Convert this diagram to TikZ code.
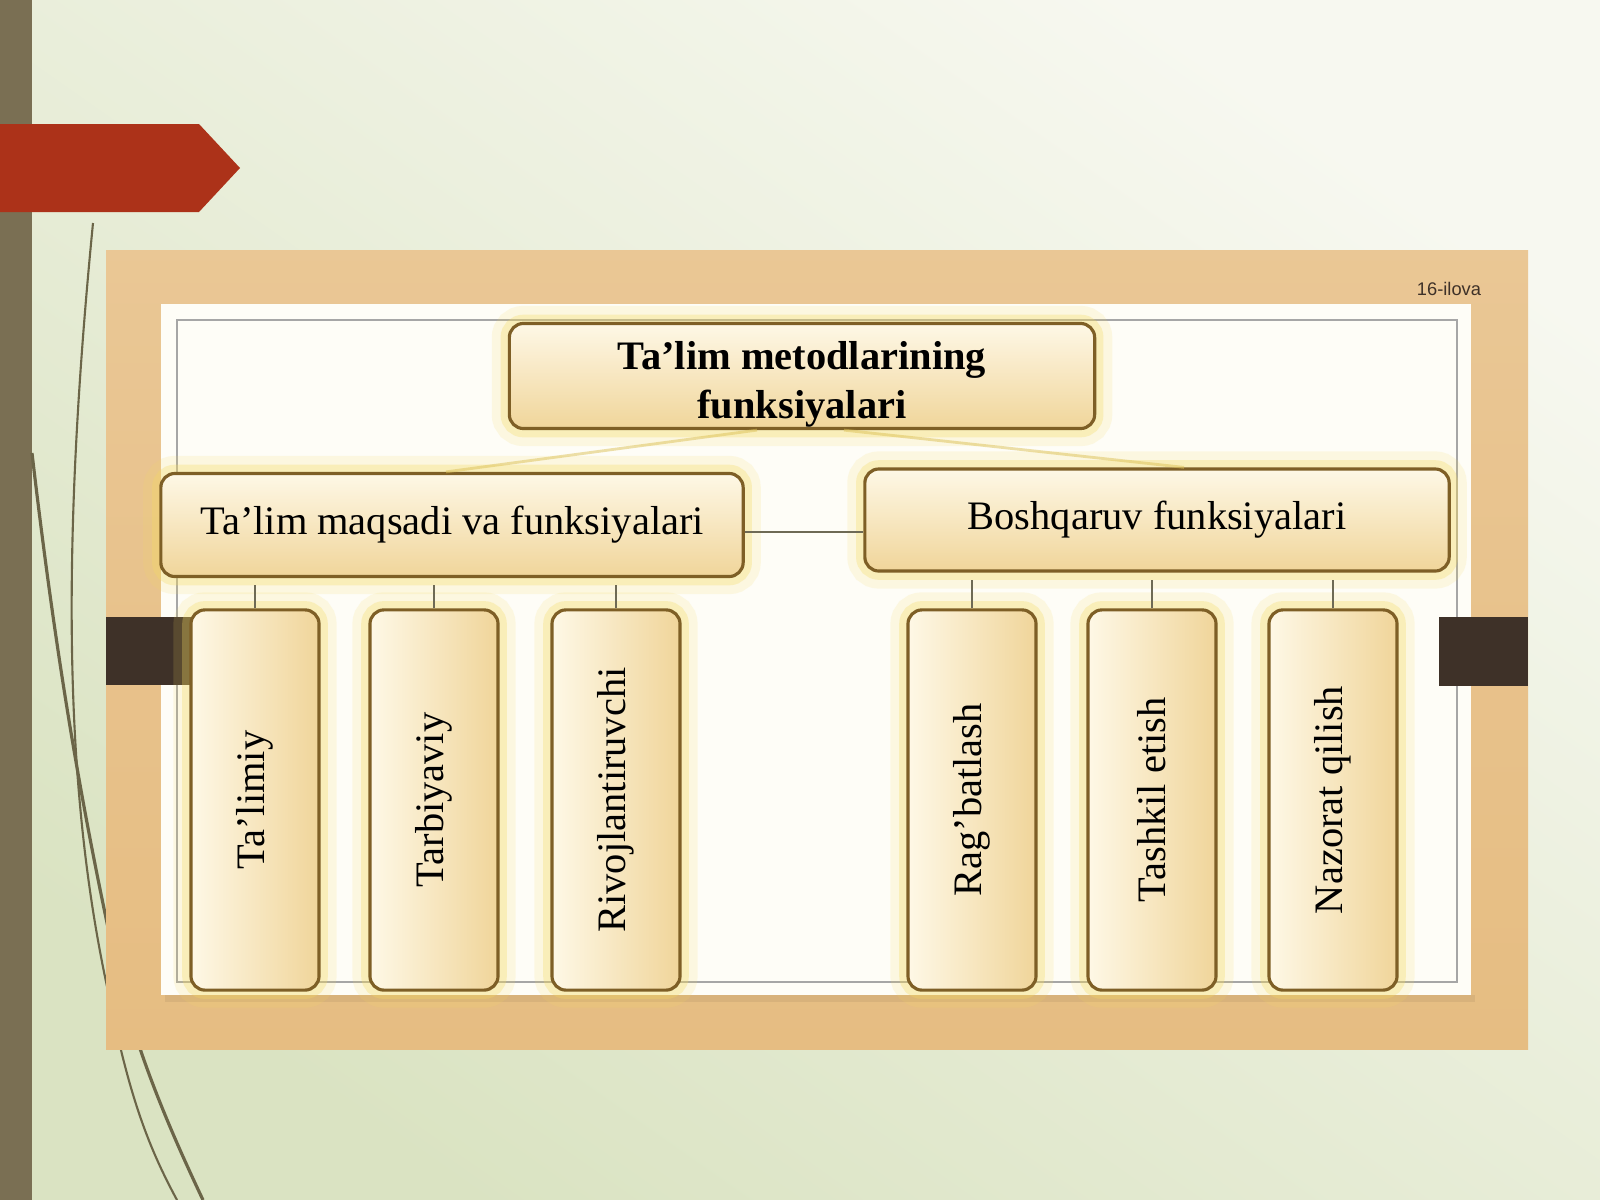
\documentclass[tikz,border=0pt]{standalone}
\usepackage{fontspec}
\setmainfont{Liberation Serif}
\newfontfamily\labelfont{Liberation Sans}

\definecolor{slidetop}{HTML}{F7F8F0}
\definecolor{slidebot}{HTML}{DAE3C2}
\definecolor{olive}{HTML}{7A6F53}
\definecolor{curvec}{HTML}{6B6548}
\definecolor{arrowred}{HTML}{AC3219}
\definecolor{framec}{HTML}{E6BD82}
\definecolor{panelc}{HTML}{FEFDF7}
\definecolor{tabc}{HTML}{3E3128}
\definecolor{boxtop}{HTML}{FEF8E6}
\definecolor{boxbot}{HTML}{F0D59A}
\definecolor{boxedge}{HTML}{7E5F26}
\definecolor{glowc}{HTML}{F4DA62}
\definecolor{linkc}{HTML}{6E6A55}

\begin{document}
\begin{tikzpicture}[x=0.01cm, y=-0.01cm,
	box/.style={draw=boxedge, line width=0.9pt, rounded corners=4pt,
		top color=boxtop, bottom color=boxbot, inner sep=0pt, align=center,
		font=\fontsize{11.5}{14}\selectfont, text=black,
		preaction={draw=glowc, line width=10pt, opacity=0.15},
		preaction={draw=glowc, line width=5pt, opacity=0.3}},
	vbox/.style={box, left color=boxtop, right color=boxbot,
		minimum width=1.28cm, minimum height=3.8cm},
	link/.style={draw=linkc, line width=0.6pt},
	halo/.style={draw=glowc!80!boxedge, line width=0.8pt, opacity=0.5}]

	\useasboundingbox (0,0) rectangle (1600,1200);

	% slide
	\shade[top color=slidetop, bottom color=slidebot, shading angle=-35] (0,0) rectangle (1600,1200);
	\fill[olive] (0,0) rectangle (32,1200);
	\fill[arrowred] (0,124) -- (199,124) -- (240,168) -- (199,212) -- (0,212) -- cycle;
	\draw[curvec, line width=0.6pt] (93,223) .. controls (60,560) and (65,800) .. (110,1000)
		.. controls (130,1100) and (150,1150) .. (177,1200);
	\draw[curvec, line width=0.9pt] (32,453) .. controls (55,650) and (80,800) .. (115,960)
		.. controls (135,1050) and (170,1130) .. (203,1200);

	% frame and panel
	\shade[top color=framec!85!white, bottom color=framec] (106,250) rectangle (1528,1049);
	\fill[black, opacity=0.06] (165,995) rectangle (1475,1002);
	\fill[panelc] (161,304) rectangle (1471,995);
	\draw[gray!70, line width=0.5pt] (177,320) rectangle (1457,982);
	\node[font=\labelfont\fontsize{5.2}{6}\selectfont, text=tabc] (ilova) at (1449,289) {16-ilova};

	\fill[tabc] (106,617) rectangle (191,685);
	\fill[tabc] (1439,617) rectangle (1528,686);

	% boxes
	\node[box, minimum width=5.85cm, minimum height=1.05cm,
		font=\bfseries\fontsize{11.5}{14}\selectfont] (top) at (802,376)
		{\rule{0pt}{12.5pt}Ta’lim metodlarining\\funksiyalari};
	\node[box, minimum width=5.82cm, minimum height=1.03cm] (aims) at (452,525)
		{Ta’lim maqsadi va funksiyalari};
	\node[box, minimum width=5.84cm, minimum height=1.02cm] (manage) at (1157,520)
		{Boshqaruv funksiyalari};

	\node[vbox] (t1) at (255,800) {\rotatebox{90}{Ta’limiy}};
	\node[vbox] (t2) at (434,800) {\rotatebox{90}{Tarbiyaviy}};
	\node[vbox] (t3) at (616,800) {\rotatebox{90}{Rivojlantiruvchi}};
	\node[vbox] (b1) at (972,800) {\rotatebox{90}{Rag’batlash}};
	\node[vbox] (b2) at (1152,800) {\rotatebox{90}{Tashkil etish}};
	\node[vbox] (b3) at (1333,800) {\rotatebox{90}{Nazorat qilish}};

	% links
	\draw[halo] ([xshift=-0.45cm]top.south) -- ([xshift=-0.06cm]aims.north);
	\draw[halo] ([xshift=0.42cm]top.south) -- ([xshift=0.27cm]manage.north);
	\draw[link] ([yshift=-0.07cm]aims.east) -- ([yshift=-0.07cm]aims.east -| manage.west);
	\foreach \n in {t1,t2,t3}
		\draw[link, shorten >=2pt] (\n.north) -- (\n.north |- aims.south);
	\foreach \n in {b1,b2,b3}
		\draw[link, shorten >=2pt] (\n.north) -- (\n.north |- manage.south);

\end{tikzpicture}
\end{document}
